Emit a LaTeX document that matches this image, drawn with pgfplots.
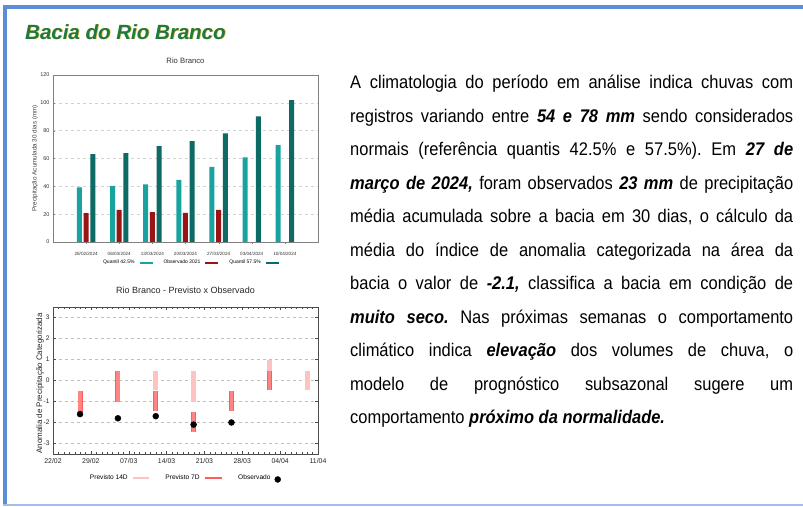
\documentclass[border=0pt]{standalone}
\usepackage{pgfplots}
\pgfplotsset{compat=1.18}
\usepackage{pgfplotstable}
\usepackage{fontspec}
\setmainfont{Liberation Sans}
\newfontfamily\parafont{Liberation Sans}[FakeStretch=0.9]

\definecolor{borderblue}{HTML}{5A8FD8}
\definecolor{borderlight}{HTML}{A3BDE8}
\definecolor{titlegreen}{HTML}{1F7B3D}
\definecolor{titleshadow}{HTML}{E3B23C}
\definecolor{qlow}{HTML}{19A3A0}
\definecolor{qobs}{HTML}{991515}
\definecolor{qhigh}{HTML}{0D6B65}
\definecolor{fourteen}{HTML}{FFC2C2}
\definecolor{seven}{HTML}{FF8585}
\definecolor{sevenedge}{HTML}{FF5C5C}

\pgfplotstableread{
x q425 obs q575
0 39.2 20.8 63.2
1 40.4 23.0 63.9
2 41.4 21.5 68.9
3 44.7 21.0 72.5
4 54.0 23.0 78.0
5 60.8 nan 90.2
6 69.6 nan 102.0
}\topdata

\pgfplotstableread{
x lo hi
19 -0.45 0.45
26 -1.00 0.45
40 -0.45 1.00
47 -0.45 0.45
}\fourteendata

\pgfplotstableread{
x lo hi
5 -1.50 -0.50
12 -1.00 0.45
19 -1.45 -0.50
26 -2.45 -1.50
33 -1.45 -0.50
40 -0.45 0.45
}\sevendata

\pgfplotstableread{
x obs
5 -1.6
12 -1.8
19 -1.7
26 -2.1
33 -2.0
}\obsdata

\newcommand\jl[2]{\node[anchor=base west, inner sep=0pt, font=\parafont\fontsize{18.3}{22}\selectfont] at (350pt,#1pt) {\makebox[443pt][s]{#2}};}
\newcommand\bi[1]{\textbf{\textit{#1}}}

\begin{document}
\frenchspacing
\begin{tikzpicture}
\useasboundingbox (0pt,0pt) rectangle (803pt,506pt);
\fill[white] (0pt,0pt) rectangle (803pt,506pt);
\fill[borderblue] (3pt,496.7pt) rectangle (803pt,501.3pt);
\fill[borderblue] (3.3pt,0pt) rectangle (7.3pt,501.3pt);
\fill[borderlight] (3.3pt,0.5pt) rectangle (803pt,2.5pt);

\node[anchor=base west, inner sep=0pt, text=titleshadow, font=\bfseries\itshape\fontsize{20.5}{24}\selectfont] at (25.7pt,466.0pt) {Bacia do Rio Branco};
\node[anchor=base west, inner sep=0pt, text=titlegreen, font=\bfseries\itshape\fontsize{20.5}{24}\selectfont] at (25pt,466.7pt) {Bacia do Rio Branco};

% ---------- top chart
\begin{axis}[
  at={(53pt,264pt)}, anchor=south west, scale only axis,
  width=265pt, height=167pt,
  xmin=-1, xmax=7, ymin=0, ymax=120,
  ybar, bar width=5pt,
  xtick={0,...,6},
  xticklabels={28/02/2024,06/03/2024,13/03/2024,20/03/2024,27/03/2024,03/04/2024,10/04/2024},
  ytick={0,20,...,120},
  tick pos=left,
  major tick length=2pt,
  axis line style={gray},
  tick style={gray},
  ymajorgrids, grid style={dashed, gray!35},
  /pgf/number format/assume math mode=true,
  yticklabel style={font=\fontsize{5.5}{6}\selectfont, text=black!80},
  xticklabel style={font=\fontsize{4.6}{5}\selectfont, text=black!80, anchor=center, yshift=-9.7pt},
  title={Rio Branco},
  title style={at={(axis description cs:0.5,1)}, anchor=center, yshift=8.3pt, font=\fontsize{7.7}{9}\selectfont, text=black!80},
  ylabel={Precipitação Acumulada 30 dias (mm)},
  ylabel style={at={(axis description cs:-0.068,0.5)}, anchor=center, font=\fontsize{6.3}{7}\selectfont, text=black!75},
  legend style={at={(axis description cs:0.517,-0.124)}, anchor=center, draw=none, fill=none,
    font=\fontsize{5.0}{6}\selectfont, legend columns=3,
    /tikz/every odd column/.append style={column sep=3pt},
    /tikz/every even column/.append style={column sep=9pt}},
  legend plot pos=right,
]
\addplot[fill=qlow, draw=none, bar shift=-6.7pt,
  legend image code/.code={\fill[qlow] (0pt,-1.2pt) rectangle (13pt,1.2pt);}]
  table[x=x, y=q425] {\topdata};
\addlegendentry{Quantil 42.5\%}
\addplot[fill=qobs, draw=none, bar shift=0pt,
  legend image code/.code={\fill[qobs] (0pt,-1.2pt) rectangle (13pt,1.2pt);}]
  table[x=x, y=obs] {\topdata};
\addlegendentry{Observado 2021}
\addplot[fill=qhigh, draw=none, bar shift=6.7pt,
  legend image code/.code={\fill[qhigh] (0pt,-1.2pt) rectangle (13pt,1.2pt);}]
  table[x=x, y=q575] {\topdata};
\addlegendentry{Quantil 57.5\%}
\end{axis}

% ---------- bottom chart
\begin{axis}[
  at={(53pt,52pt)}, anchor=south west, scale only axis,
  width=265pt, height=147pt,
  xmin=0, xmax=49, ymin=-3.5, ymax=3.5,
  xtick={0,7,...,49},
  xticklabels={22/02,29/02,07/03,14/03,21/03,28/03,04/04,11/04},
  minor x tick num=6,
  ytick={-3,...,3},
  major tick length=3pt, minor tick length=1.5pt,
  axis line style={black!70},
  tick style={black!70},
  ymajorgrids, grid style={dashed, gray!50},
  /pgf/number format/assume math mode=true,
  yticklabel style={font=\fontsize{6.6}{7}\selectfont, text=black!85},
  xticklabel style={font=\fontsize{6.9}{7}\selectfont, text=black!85, anchor=center, yshift=-7pt},
  title={Rio Branco - Previsto x Observado},
  title style={at={(axis description cs:0.5,1)}, anchor=center, yshift=11pt, font=\fontsize{9}{10}\selectfont, text=black!85},
  ylabel={Anomalia de Precipitação Categorizada},
  ylabel style={at={(axis description cs:-0.049,0.48)}, anchor=center, font=\fontsize{8}{9}\selectfont, text=black!85},
  legend style={at={(axis description cs:0.496,-0.163)}, anchor=center, draw=none, fill=none,
    font=\fontsize{6.6}{7}\selectfont, legend columns=3,
    /tikz/every odd column/.append style={column sep=2pt},
    /tikz/every even column/.append style={column sep=13pt}},
  legend plot pos=right,
]
\addplot[draw=none, mark=none,
  legend image code/.code={\draw[fourteen, line width=2.7pt] (0pt,0pt) -- (16pt,0pt);},
  error bars/.cd, y dir=plus, y explicit, error mark=none,
  error bar style={draw=fourteen, line width=5pt}]
  table[x=x, y=lo, y error expr=\thisrow{hi}-\thisrow{lo}] {\fourteendata};
\addlegendentry{Previsto 14D}
\addplot[draw=none, mark=none,
  legend image code/.code={\draw[sevenedge, line width=2.7pt] (0pt,0pt) -- (17pt,0pt);},
  error bars/.cd, y dir=plus, y explicit, error mark=none,
  error bar style={draw=sevenedge, line width=5pt}]
  table[x=x, y=lo, y error expr=\thisrow{hi}-\thisrow{lo}] {\sevendata};
\addlegendentry{Previsto 7D}
\addplot[draw=none, mark=none, forget plot,
  error bars/.cd, y dir=plus, y explicit, error mark=none,
  error bar style={draw=seven, line width=3.4pt}]
  table[x=x, y=lo, y error expr=\thisrow{hi}-\thisrow{lo}] {\sevendata};
\addplot[only marks, mark=*, mark size=3pt, black,
  legend image code/.code={\fill[black] (8pt,-1.5pt) circle (3pt);}]
  table[x=x, y=obs] {\obsdata};
\addlegendentry{Observado}
\end{axis}

% ---------- text
\jl{417.5}{A climatologia do período em análise indica chuvas com}
\jl{383.95}{registros variando entre \bi{54 e 78 mm} sendo considerados}
\jl{350.4}{normais (referência quantis 42.5\% e 57.5\%). Em \bi{27 de}}
\jl{316.85}{\bi{março de 2024,} foram observados \bi{23 mm} de precipitação}
\jl{283.3}{média acumulada sobre a bacia em 30 dias, o cálculo da}
\jl{249.75}{média do índice de anomalia categorizada na área da}
\jl{216.2}{bacia o valor de \bi{-2.1,} classifica a bacia em condição de}
\jl{182.65}{\bi{muito seco.} Nas próximas semanas o comportamento}
\jl{149.1}{climático indica \bi{elevação} dos volumes de chuva, o}
\jl{115.55}{modelo de prognóstico subsazonal sugere um}
\node[anchor=base west, inner sep=0pt, font=\parafont\fontsize{18.3}{22}\selectfont] at (350pt,82pt) {comportamento \bi{próximo da normalidade.}};
\end{tikzpicture}
\end{document}
